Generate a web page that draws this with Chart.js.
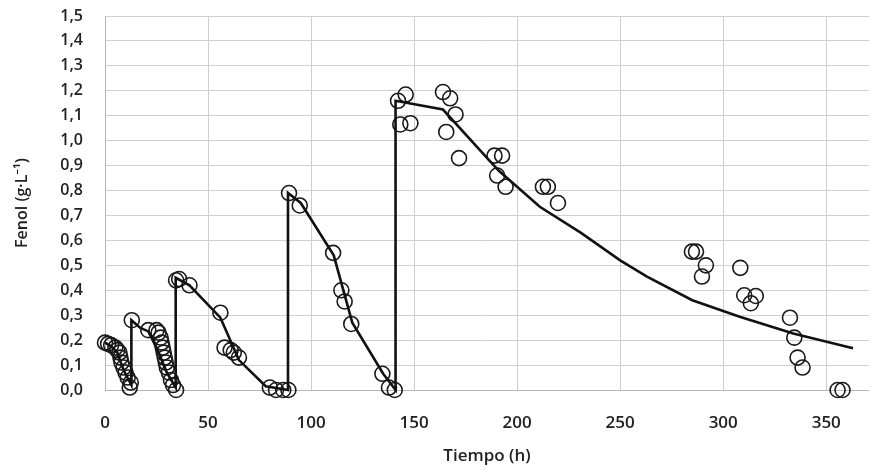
<!DOCTYPE html>
<html>
<head>
<meta charset="utf-8">
<script src="https://cdn.jsdelivr.net/npm/chart.js@4.4.0/dist/chart.umd.min.js"></script>
<style>
  html, body { margin: 0; padding: 0; background: #fff; }
  #wrap { width: 878px; height: 473px; }
</style>
</head>
<body>
<div id="wrap"><canvas id="fenolChart"></canvas></div>
<script>
// datos experimentales (círculos)
const tiempoExp = [
  0, 1.5, 3, 5, 6, 7, 7.5, 8, 9, 10, 11, 12.5, 12,
  13,
  21, 25, 26, 27, 27.5, 28, 28.5, 29, 29.5, 30, 31, 32, 33, 34.5,
  34.5, 36, 41, 56, 58, 61, 62.5, 65,
  80, 83, 86.5, 89,
  89.3, 94.5, 110.7, 114.7, 116.3, 119.5, 134.6, 137.8, 140.6,
  142.2, 145.9, 143.3, 148.2, 164, 167.5, 170.1, 165.6, 171.8,
  189, 192.7, 190.3, 194.4, 212.5, 214.9, 219.8,
  284.8, 286.8, 291.6, 289.7, 308.3, 310.2, 315.8, 313.4,
  332.4, 334.5, 336.1, 338.5, 355.5, 357.9
];
const fenolExp = [
  0.19, 0.185, 0.18, 0.17, 0.16, 0.15, 0.13, 0.11, 0.09, 0.07, 0.05, 0.03, 0.01,
  0.28,
  0.24, 0.24, 0.23, 0.21, 0.19, 0.17, 0.15, 0.13, 0.11, 0.09, 0.07, 0.04, 0.02, 0.0,
  0.44, 0.445, 0.42, 0.31, 0.17, 0.16, 0.15, 0.13,
  0.01, 0.0, 0.0, 0.0,
  0.79, 0.74, 0.55, 0.40, 0.355, 0.265, 0.065, 0.01, 0.0,
  1.16, 1.185, 1.065, 1.07, 1.195, 1.17, 1.105, 1.035, 0.93,
  0.94, 0.94, 0.86, 0.815, 0.815, 0.815, 0.75,
  0.555, 0.555, 0.50, 0.455, 0.49, 0.38, 0.377, 0.348,
  0.29, 0.21, 0.13, 0.09, 0.0, 0.0
];

// modelo (línea continua)
const tiempoMod = [
  0, 3, 6, 9, 12.8,
  12.8, 17, 21, 25, 30, 34.3,
  34.3, 41, 56, 65, 78, 88.8,
  88.8, 95, 111, 120, 135, 141,
  141, 164, 191, 211, 231, 250, 263, 285, 308, 334, 363
];
const fenolMod = [
  0.19, 0.175, 0.15, 0.08, 0.02,
  0.28, 0.25, 0.235, 0.17, 0.07, 0.01,
  0.45, 0.42, 0.29, 0.12, 0.015, 0.0,
  0.79, 0.75, 0.54, 0.27, 0.065, 0.0,
  1.16, 1.125, 0.88, 0.735, 0.63, 0.52, 0.455, 0.36, 0.294, 0.227, 0.167
];

const xTicks = [0, 50, 100, 150, 200, 250, 300, 350];
const yTicks = [0, 0.1, 0.2, 0.3, 0.4, 0.5, 0.6, 0.7, 0.8, 0.9, 1.0, 1.1, 1.2, 1.3, 1.4, 1.5];

const fuente = "'Open Sans', 'Noto Sans', sans-serif";
Chart.defaults.font.family = fuente;
Chart.defaults.color = '#222';

// quitar el relleno automático que Chart.js añade por las etiquetas
function sinRelleno(s) {
  s.paddingTop = 0; s.paddingBottom = 0;
  s.paddingLeft = 0; s.paddingRight = 0;
}

new Chart(document.getElementById('fenolChart').getContext('2d'), {
  type: 'scatter',
  data: {
    datasets: [
      {
        label: 'Modelo',
        data: tiempoMod.map((t, i) => ({ x: t, y: fenolMod[i] })),
        showLine: true,
        borderColor: '#111',
        borderWidth: 2.6,
        pointRadius: 0,
        tension: 0,
        clip: false
      },
      {
        label: 'Experimental',
        data: tiempoExp.map((t, i) => ({ x: t, y: fenolExp[i] })),
        borderColor: '#1a1a1a',
        backgroundColor: 'rgba(0,0,0,0)',
        borderWidth: 1.6,
        pointRadius: 7.5,
        clip: false
      }
    ]
  },
  options: {
    responsive: true,
    maintainAspectRatio: false,
    animation: false,
    layout: { padding: { top: 16, right: 0, left: 0, bottom: 0 } },
    plugins: { legend: { display: false }, tooltip: { enabled: false } },
    scales: {
      x: {
        type: 'linear',
        min: 0,
        max: 370.7,
        afterBuildTicks: (s) => { s.ticks = xTicks.map(v => ({ value: v })); },
        afterFit: (s) => { s.height = 83; sinRelleno(s); },
        grid: { color: '#cfcfcf', lineWidth: 1, drawTicks: false },
        border: { color: '#b5b5b5' },
        ticks: { padding: 23, font: { size: 17, family: fuente, weight: '600' }, color: '#222', maxRotation: 0 },
        title: { display: true, text: 'Tiempo (h)', font: { size: 17, family: fuente, weight: '600' }, color: '#222', padding: { top: 2, bottom: 7 } }
      },
      y: {
        min: 0,
        max: 1.5,
        afterBuildTicks: (s) => { s.ticks = yTicks.map(v => ({ value: v })); },
        afterFit: (s) => { s.width = 105; sinRelleno(s); },
        grid: { color: '#cfcfcf', lineWidth: 1, drawTicks: false },
        border: { color: '#b5b5b5' },
        ticks: {
          padding: 22,
          font: { size: 16, family: fuente, weight: '600' },
          color: '#222',
          callback: (v) => v.toFixed(1).replace('.', ',')
        },
        title: { display: true, text: 'Fenol (g·L⁻¹)', font: { size: 16, family: fuente, weight: '600' }, color: '#222', padding: { top: 13, bottom: 4 } }
      }
    }
  }
});
</script>
</body>
</html>
